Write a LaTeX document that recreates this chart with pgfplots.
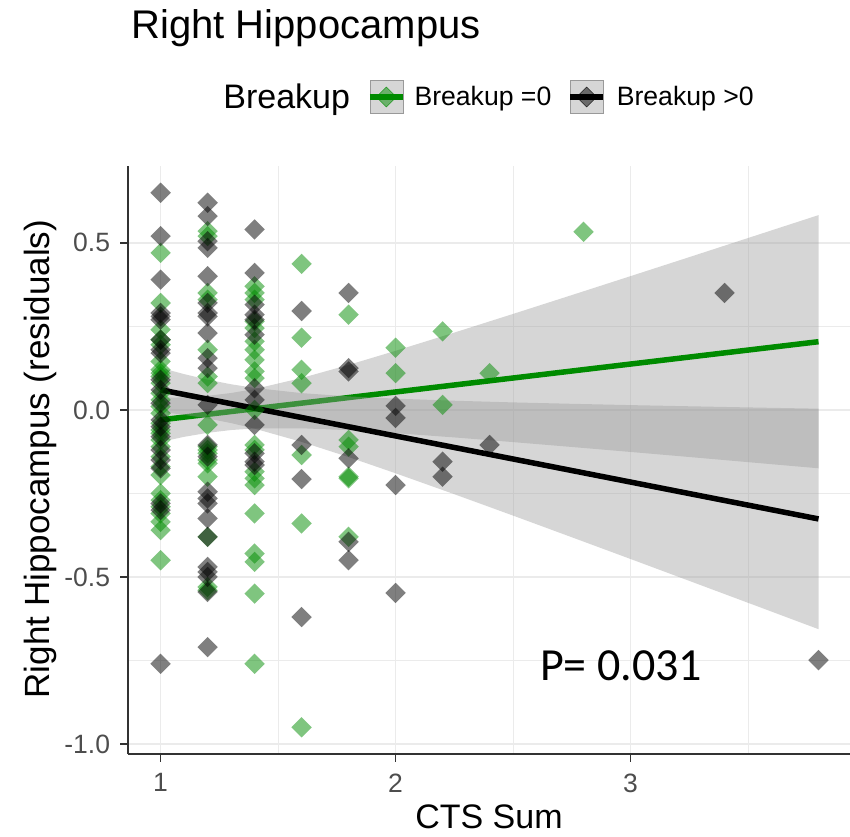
\documentclass[border=0pt]{standalone}
\usepackage{pgfplots}
\usepackage{pgfplotstable}
\pgfplotsset{compat=1.18}
\usepackage{fontspec}
\setmainfont{Liberation Sans}
\newfontfamily\pfont{Carlito}

\definecolor{green4}{RGB}{0,139,0}
\definecolor{grey60}{RGB}{153,153,153}
\definecolor{grey92}{RGB}{235,235,235}
\definecolor{grey30}{RGB}{77,77,77}
\definecolor{grey20}{RGB}{51,51,51}

% Breakup = 0
\pgfplotstableread{
x y
1 0.47
1 0.32
1 0.24
1 0.21
1 0.195
1 0.145
1 0.12
1 0.11
1 0.10
1 0.08
1 0.05
1 0.03
1 0.01
1 -0.01
1 -0.04
1 -0.06
1 -0.07
1 -0.09
1 -0.11
1 -0.14
1 -0.17
1 -0.195
1 -0.25
1 -0.27
1 -0.29
1 -0.31
1 -0.335
1 -0.36
1 -0.45
1.2 0.535
1.2 0.52
1.2 0.35
1.2 0.33
1.2 0.18
1.2 0.10
1.2 0.08
1.2 -0.045
1.2 -0.11
1.2 -0.12
1.2 -0.13
1.2 -0.15
1.2 -0.16
1.2 -0.20
1.2 -0.38
1.2 -0.53
1.2 -0.54
1.4 0.37
1.4 0.35
1.4 0.33
1.4 0.265
1.4 0.245
1.4 0.205
1.4 0.18
1.4 0.15
1.4 0.115
1.4 0.095
1.4 0.0
1.4 -0.105
1.4 -0.12
1.4 -0.185
1.4 -0.205
1.4 -0.225
1.4 -0.31
1.4 -0.43
1.4 -0.455
1.4 -0.55
1.4 -0.76
1.6 0.437
1.6 0.216
1.6 0.12
1.6 0.08
1.6 -0.135
1.6 -0.34
1.6 -0.95
1.8 0.285
1.8 -0.09
1.8 -0.11
1.8 -0.20
1.8 -0.205
1.8 -0.38
2.0 0.186
2.0 0.11
2.2 0.235
2.2 0.015
2.4 0.11
2.8 0.533
}\breakupzero

% Breakup > 0
\pgfplotstableread{
x y
1 0.65
1 0.52
1 0.39
1 0.29
1 0.28
1 0.27
1 0.21
1 0.18
1 0.17
1 0.09
1 0.06
1 0.02
1 -0.03
1 -0.05
1 -0.08
1 -0.12
1 -0.15
1 -0.175
1 -0.28
1 -0.30
1 -0.76
1.2 0.62
1.2 0.58
1.2 0.505
1.2 0.485
1.2 0.40
1.2 0.32
1.2 0.29
1.2 0.28
1.2 0.23
1.2 0.155
1.2 0.125
1.2 0.015
1.2 -0.105
1.2 -0.14
1.2 -0.245
1.2 -0.265
1.2 -0.28
1.2 -0.325
1.2 -0.38
1.2 -0.47
1.2 -0.485
1.2 -0.50
1.2 -0.545
1.2 -0.71
1.4 0.54
1.4 0.41
1.4 0.315
1.4 0.285
1.4 0.27
1.4 0.225
1.4 0.065
1.4 0.03
1.4 -0.045
1.4 -0.13
1.4 -0.155
1.4 -0.165
1.6 0.296
1.6 -0.105
1.6 -0.207
1.6 -0.62
1.8 0.35
1.8 0.125
1.8 0.115
1.8 -0.145
1.8 -0.395
1.8 -0.45
2.0 0.012
2.0 -0.024
2.0 -0.225
2.0 -0.548
2.2 -0.155
2.2 -0.20
2.4 -0.105
3.4 0.35
3.8 -0.749
}\breakuppos

\begin{document}
\begin{tikzpicture}
\useasboundingbox (0,0) rectangle (850pt,836pt);
\begin{axis}[
  at={(127.7pt,82pt)}, anchor=south west,
  scale only axis, width=723.7pt, height=588pt,
  xmin=0.86, xmax=3.94, ymin=-1.03, ymax=0.73,
  axis x line*=bottom, axis y line*=left,
  axis line style={-, grey20, line width=1.6pt},
  xtick={1,2,3}, xticklabels={1,2,3},
  ytick={-1,-0.5,0,0.5}, yticklabels={-1.0,-0.5,0.0,0.5},
  minor xtick={1.5,2.5,3.5}, minor ytick={-0.75,-0.25,0.25},
  grid=both,
  major grid style={grey92, line width=1.6pt},
  minor grid style={grey92, line width=0.9pt},
  tick align=outside, major tick length=7.5pt, minor tick length=0pt,
  major tick style={grey20, line width=1.6pt},
  ticklabel style={font=\fontsize{26.5}{30}\selectfont, text=grey30, inner sep=0pt},
  xticklabel style={anchor=north, yshift=-12pt},
  yticklabel style={anchor=east, xshift=-10pt},
  legend style={at={(axis description cs:0.4986,1.1173)}, anchor=center,
    draw=none, fill=none, inner sep=0pt, outer sep=0pt,
    font=\fontsize{26.6}{30}\selectfont,
    nodes={inner sep=0pt},
    /tikz/column 2/.style={column sep=17pt},
    /tikz/column 3/.style={column sep=9pt},
    /tikz/column 4/.style={column sep=16pt},
    /tikz/column 5/.style={column sep=11pt}},
  legend columns=-1, legend cell align=left,
]
% legend: title and the two keys
\addlegendimage{empty legend}
\addlegendentry[font=\fontsize{34}{38}\selectfont]{Breakup}
\addlegendimage{legend image code/.code={
  \fill[grey60, fill opacity=0.4] (0pt,-16.5pt) rectangle (33pt,16.5pt);
  \fill[green4, fill opacity=0.5] (16.5pt,-10pt) -- (26.5pt,0pt) -- (16.5pt,10pt) -- (6.5pt,0pt) -- cycle;
  \draw[green4, line width=5.5pt] (0pt,0pt) -- (33pt,0pt);}}
\addlegendentry{Breakup =0}
\addlegendimage{legend image code/.code={
  \fill[grey60, fill opacity=0.4] (0pt,-16.5pt) rectangle (33pt,16.5pt);
  \fill[black, fill opacity=0.5] (16.5pt,-10pt) -- (26.5pt,0pt) -- (16.5pt,10pt) -- (6.5pt,0pt) -- cycle;
  \draw[black, line width=5.5pt] (0pt,0pt) -- (33pt,0pt);}}
\addlegendentry{Breakup >0}

% points
\addplot[forget plot, only marks, mark=square*, mark size=7.2pt,
  mark options={rotate=45, fill=green4, fill opacity=0.5, draw opacity=0, line width=0pt}]
  table[x=x, y=y] {\breakupzero};
\addplot[forget plot, only marks, mark=square*, mark size=7.2pt,
  mark options={rotate=45, fill=black, fill opacity=0.5, draw opacity=0, line width=0pt}]
  table[x=x, y=y] {\breakuppos};

% Breakup = 0: confidence band and fit
\addplot[forget plot, draw=none, fill=grey60, fill opacity=0.4] coordinates {
  (1,0.036) (1.1,0.0375) (1.2,0.0421) (1.3,0.0505) (1.4,0.0625) (1.6,0.0954)
  (1.8,0.1346) (2.0,0.1768) (2.25,0.2314) (2.5,0.2872) (2.75,0.3436) (3.0,0.4003)
  (3.25,0.4572) (3.5,0.5144) (3.8,0.5830)
  (3.8,-0.1748) (3.5,-0.1564) (3.25,-0.1410) (3.0,-0.1259) (2.75,-0.1110)
  (2.5,-0.0964) (2.25,-0.0824) (2.0,-0.0696) (1.8,-0.0608) (1.6,-0.0550)
  (1.4,-0.0557) (1.3,-0.0603) (1.2,-0.0687) (1.1,-0.0807) (1,-0.096)};
\addplot[forget plot, green4, line width=5.5pt] coordinates {(1,-0.03) (3.8,0.2041)};

% Breakup > 0: confidence band and fit
\addplot[forget plot, draw=none, fill=grey60, fill opacity=0.4] coordinates {
  (1,0.126) (1.1,0.1071) (1.2,0.0905) (1.3,0.0767) (1.4,0.0657) (1.6,0.0502)
  (1.8,0.0404) (2.0,0.0337) (2.25,0.0274) (2.5,0.0224) (2.75,0.0182) (3.0,0.0143)
  (3.25,0.0108) (3.5,0.0074) (3.8,0.0036)
  (3.8,-0.6564) (3.5,-0.5774) (3.25,-0.5118) (3.0,-0.4463) (2.75,-0.3812)
  (2.5,-0.3164) (2.25,-0.2524) (2.0,-0.1897) (1.8,-0.1412) (1.6,-0.0958)
  (1.4,-0.0561) (1.3,-0.0395) (1.2,-0.0257) (1.1,-0.0147) (1,-0.006)};
\addplot[forget plot, black, line width=5.5pt] coordinates {(1,0.06) (3.8,-0.3264)};

\node[anchor=base west, font=\pfont\fontsize{46}{50}\selectfont] at (axis cs:2.60,-0.811) {P= 0.031};
\end{axis}

\node[anchor=base west, font=\fontsize{40}{44}\selectfont] at (128pt,797pt) {Right Hippocampus};
\node[anchor=base, font=\fontsize{34}{38}\selectfont] at (489pt,8pt) {CTS Sum};
\node[rotate=90, anchor=base, font=\fontsize{35}{38}\selectfont] at (49pt,377pt) {Right Hippocampus (residuals)};
\end{tikzpicture}
\end{document}
